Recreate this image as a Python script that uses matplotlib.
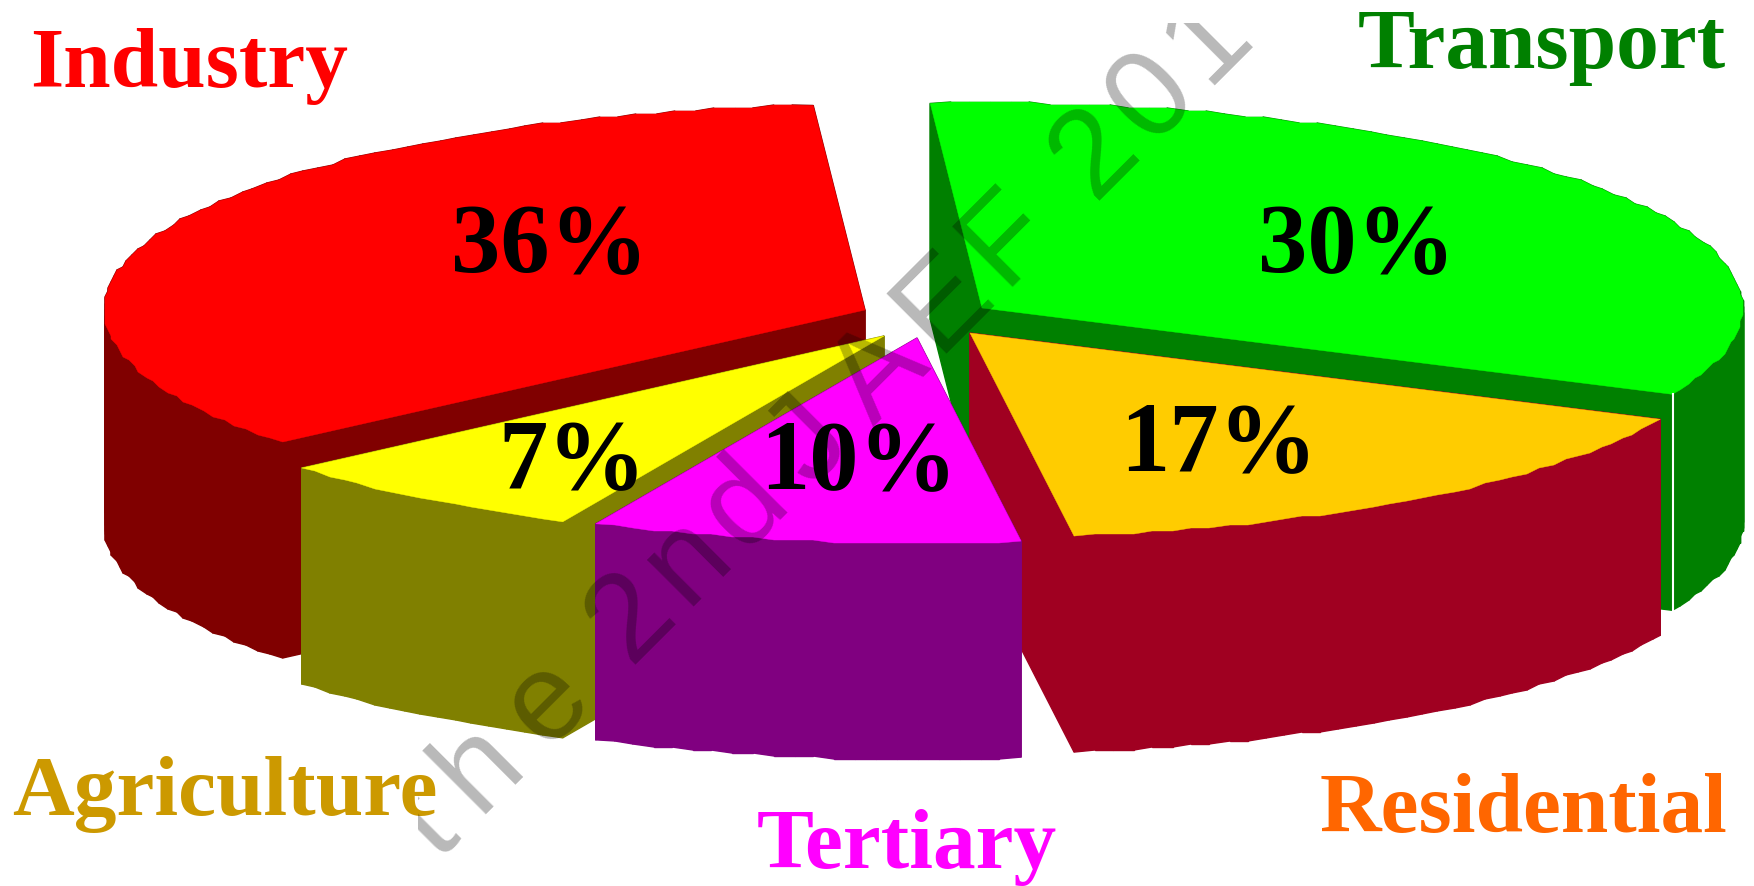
#3D exploded pie
import numpy as np
import matplotlib
matplotlib.use('Agg')
import matplotlib.pyplot as plt
from matplotlib.patches import Rectangle

# data
names = ['Transport', 'Residential', 'Tertiary', 'Agriculture', 'Industry']
printed_pct = [30, 17, 10, 7, 36]
# shares as actually drawn, read from the slice edges
drawn_share = [33.0, 15.9, 9.12, 6.93, 35.05]
top_colors = ['#00FF00', '#FFCC00', '#FF00FF', '#FFFF00', '#FF0000']
wall_colors = ['#008000', '#A00021', '#800080', '#808000', '#800000']
name_colors = ['#008000', '#FF6600', '#FF00FF', '#CC9900', '#FF0000']

# layout in pixels
W, H = 1754, 886
RX, RY = 761, 205
DEPTH = 216
START = -3.9
STEP = 1.5
JAG = 3
apex = [(982, 308), (970, 333), (917, 338), (884, 336), (865, 310)]
name_pos = [(1358, 68), (1320, 832), (757, 868), (12, 815), (30, 87)]
pct_pos = [(1357, 272), (1219, 470), (859, 488), (572, 488), (550, 272)]
draw_order = [0, 4, 1, 3, 2]

fig = plt.figure(figsize=(W / 100, H / 100), dpi=100)
ax = fig.add_axes([0, 0, 1, 1])
ax.set_xlim(0, W)
ax.set_ylim(H, 0)
ax.axis('off')

edges = START + np.cumsum([0] + drawn_share) * 3.6


def outline(i):
    n = max(int((edges[i + 1] - edges[i]) / STEP), 2)
    t = np.radians(np.linspace(edges[i], edges[i + 1], n + 1))
    x = apex[i][0] + RX * np.sin(t)
    y = apex[i][1] - RY * np.cos(t)
    # the rim of the original is rough, not a clean curve
    x[1:-1] = np.round(x[1:-1] / JAG) * JAG
    y[1:-1] = np.round(y[1:-1] / JAG) * JAG
    return np.r_[apex[i][0], x], np.r_[apex[i][1], y]


for i in draw_order:
    x, y = outline(i)
    # side walls first, then the top goes over them
    for j in range(len(x)):
        k = (j + 1) % len(x)
        ax.fill([x[j], x[k], x[k], x[j]],
                [y[j], y[k], y[k] + DEPTH, y[j] + DEPTH],
                color=wall_colors[i], lw=1)
    ax.fill(x, y, color=top_colors[i], lw=0.3)
    if names[i] == 'Transport':
        ax.plot([x[-1] + 1, x[-1] + 1], [y[-1], y[-1] + DEPTH], color='white', lw=1.5)

for i in range(len(names)):
    ax.text(name_pos[i][0], name_pos[i][1], names[i], color=name_colors[i],
            family='Liberation Serif', weight='bold', size=61.5, ha='left', va='baseline')
    ax.text(pct_pos[i][0], pct_pos[i][1], str(printed_pct[i]) + '%', color='black',
            family='Liberation Serif', weight='bold', size=71, ha='center', va='baseline')

# watermark, clipped on the left and at the top like the original
thin = '\u2009'
hair = '\u200a'
wm_text = (thin.join('the') + thin * 2 + hair.join('2nd') + thin + 'J' + thin + 'A' + hair
           + hair.join('EF') + thin * 2 + hair.join('2013'))
wm = ax.text(438, 862, wm_text,
             color='black', alpha=0.28, family=['Liberation Sans', 'DejaVu Sans'], size=90, rotation=45,
             rotation_mode='anchor', ha='left', va='baseline', clip_on=True)
wm.set_clip_path(Rectangle((418, 23), W - 418, H - 23, transform=ax.transData))

plt.savefig('out.png', dpi=100)
plt.close()
